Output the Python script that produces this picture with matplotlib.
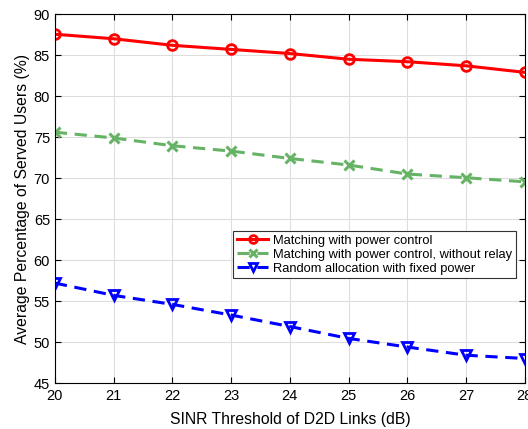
import matplotlib
matplotlib.use("Agg")
import matplotlib.pyplot as plt

sinr = [20, 21, 22, 23, 24, 25, 26, 27, 28]
matching_pc = [87.55, 87.0, 86.2, 85.7, 85.2, 84.5, 84.2, 83.7, 82.9]
matching_no_relay = [75.6, 74.9, 73.95, 73.3, 72.4, 71.6, 70.5, 70.05, 69.55]
random_fixed = [57.2, 55.7, 54.6, 53.3, 51.9, 50.45, 49.4, 48.4, 48.0]

labels = ["Matching with power control",
          "Matching with power control, without relay",
          "Random allocation with fixed power"]

plt.rcParams["font.family"] = ["Liberation Sans", "DejaVu Sans"]

fig = plt.figure(figsize=(5.28, 4.29), dpi=100)
ax = fig.add_axes([0.104, 0.107, 0.890, 0.860])

ax.plot(sinr, matching_pc, color="#ff0000", lw=2.2, marker="o", ms=7,
        mfc="none", mew=2, label=labels[0])
ax.plot(sinr, matching_no_relay, color="#66b366", lw=2.2, ls=(0, (4, 2.5)),
        marker="x", ms=6.5, mew=2.2, label=labels[1])
ax.plot(sinr, random_fixed, color="#0000ff", lw=2.2, ls=(0, (4, 2.5)),
        marker="v", ms=7.5, mfc="none", mew=2, label=labels[2])

ax.set_xlim(20, 28)
ax.set_ylim(45, 90)
ax.set_xticks(range(20, 29))
ax.set_yticks(range(45, 91, 5))
ax.grid(True, color="#dddddd", lw=0.8)
ax.set_axisbelow(True)
ax.tick_params(direction="in", top=True, right=True, labelsize=10.5, length=4)
ax.tick_params(axis="x", pad=4.5)
for s in ax.spines.values():
    s.set_linewidth(0.8)
ax.set_xlabel("SINR Threshold of D2D Links (dB)", fontsize=11.3, labelpad=6)
ax.set_ylabel("Average Percentage of Served Users (%)", fontsize=11.3,
              labelpad=3)

leg = ax.legend(loc="upper right", bbox_to_anchor=(0.982, 0.413), fontsize=9.3,
                fancybox=False, edgecolor="#333333", framealpha=1,
                handlelength=2.4, handletextpad=0.4, borderpad=0.3,
                labelspacing=0.15, borderaxespad=0, markerscale=0.8)
leg.get_frame().set_linewidth(0.8)

fig.savefig("out.png", dpi=100)
